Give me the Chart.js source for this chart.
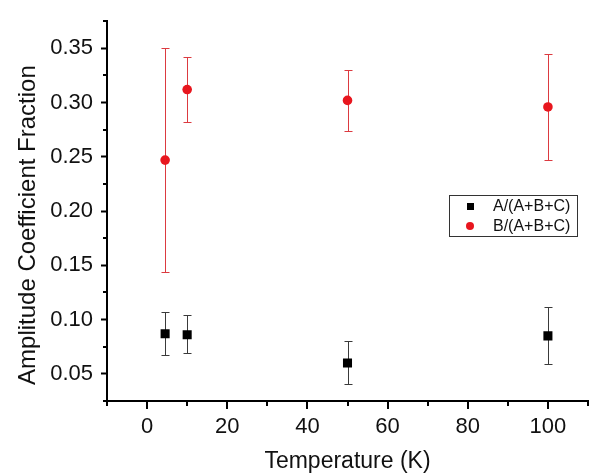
<!DOCTYPE html>
<html>
<head>
<meta charset="utf-8">
<script src="https://cdn.jsdelivr.net/npm/chart.js@4/dist/chart.umd.min.js"></script>
<style>
  html, body { margin: 0; padding: 0; background: #fff; }
</style>
</head>
<body>
<canvas id="chart" width="591" height="476"></canvas>
<script>
// temperatures (K)
var temps = [4.5, 10, 50, 100];
// A/(A+B+C) with error bar ends
var fracA = [0.087, 0.086, 0.060, 0.085];
var fracA_hi = [0.107, 0.104, 0.080, 0.112];
var fracA_lo = [0.067, 0.069, 0.041, 0.059];
// B/(A+B+C) with error bar ends
var fracB = [0.247, 0.312, 0.302, 0.296];
var fracB_hi = [0.350, 0.342, 0.330, 0.345];
var fracB_lo = [0.144, 0.282, 0.274, 0.247];
// legend labels and axis titles
var seriesNames = ['A/(A+B+C)', 'B/(A+B+C)'];
var xTitle = 'Temperature (K)';
var yTitle = 'Amplitude Coefficient Fraction';

var FONT = "'Liberation Sans', Arial, sans-serif";

function toPoints(xs, ys) {
  return xs.map(function (x, i) { return { x: x, y: ys[i] }; });
}

function isMajor(v, step) {
  var r = v / step;
  return Math.abs(r - Math.round(r)) < 1e-6;
}

// vertical error bars with caps, drawn under the markers
var errorBars = {
  id: 'errorBars',
  beforeDatasetsDraw: function (chart) {
    var ctx = chart.ctx, xs = chart.scales.x, ys = chart.scales.y;
    chart.data.datasets.forEach(function (ds) {
      ctx.save();
      ctx.strokeStyle = ds.errorColor;
      ctx.lineWidth = 1;
      ds.data.forEach(function (pt, i) {
        var px = Math.round(xs.getPixelForValue(pt.x)) + 0.5;
        var top = Math.round(ys.getPixelForValue(ds.errHi[i])) + 0.5;
        var bot = Math.round(ys.getPixelForValue(ds.errLo[i])) + 0.5;
        ctx.beginPath();
        ctx.moveTo(px, top); ctx.lineTo(px, bot);
        ctx.moveTo(px - 4, top); ctx.lineTo(px + 4, top);
        ctx.moveTo(px - 4, bot); ctx.lineTo(px + 4, bot);
        ctx.stroke();
      });
      ctx.restore();
    });
  }
};

// x ticks (long major / short minor), short minor y ticks and the y title
var axisExtras = {
  id: 'axisExtras',
  afterDraw: function (chart) {
    var ctx = chart.ctx, xs = chart.scales.x, ys = chart.scales.y;
    var area = chart.chartArea;
    ctx.save();
    ctx.strokeStyle = '#000';
    ctx.lineWidth = 2;
    ctx.beginPath();
    xs.ticks.forEach(function (t) {
      var len = isMajor(t.value, 20) ? 8 : 5;
      var px = Math.round(xs.getPixelForValue(t.value));
      ctx.moveTo(px, area.bottom); ctx.lineTo(px, area.bottom + len);
    });
    ys.ticks.forEach(function (t) {
      if (isMajor(t.value, 0.05)) return;
      var py = Math.round(ys.getPixelForValue(t.value));
      ctx.moveTo(area.left, py); ctx.lineTo(area.left - 4, py);
    });
    ctx.stroke();
    // y title, sitting a little below the middle of the axis as in the original
    ctx.translate(28, (area.top + area.bottom) / 2 + 14);
    ctx.rotate(-Math.PI / 2);
    ctx.fillStyle = '#111';
    ctx.font = '24px ' + FONT;
    ctx.textAlign = 'center';
    ctx.textBaseline = 'middle';
    ctx.fillText(yTitle, 0, 0);
    ctx.restore();
  }
};

// boxed legend inside the plot
var boxLegend = {
  id: 'boxLegend',
  afterDraw: function (chart) {
    var ctx = chart.ctx, area = chart.chartArea;
    var bx = area.right - 139, by = 195, bw = 128, bh = 41;
    ctx.save();
    ctx.fillStyle = '#fff';
    ctx.fillRect(bx, by, bw, bh);
    ctx.strokeStyle = '#333';
    ctx.lineWidth = 1;
    ctx.strokeRect(bx + 0.5, by + 0.5, bw, bh);
    ctx.font = '16px ' + FONT;
    ctx.textBaseline = 'middle';
    chart.data.datasets.forEach(function (ds, i) {
      var cy = by + 11 + i * 20, cx = bx + 21;
      ctx.fillStyle = ds.backgroundColor;
      if (ds.pointStyle === 'rect') {
        ctx.fillRect(cx - 3, cy - 3, 7, 7);
      } else {
        ctx.beginPath(); ctx.arc(cx, cy, 4, 0, Math.PI * 2); ctx.fill();
      }
      ctx.fillStyle = '#111';
      ctx.fillText(ds.label, bx + 44, cy + 1);
    });
    ctx.restore();
  }
};

new Chart(document.getElementById('chart'), {
  type: 'scatter',
  data: {
    datasets: [
      {
        label: seriesNames[0],
        data: toPoints(temps, fracA),
        errHi: fracA_hi, errLo: fracA_lo,
        errorColor: '#3a3a3a',
        pointStyle: 'rect',
        pointRadius: 6.4,
        backgroundColor: '#000',
        borderColor: '#000',
        borderWidth: 0
      },
      {
        label: seriesNames[1],
        data: toPoints(temps, fracB),
        errHi: fracB_hi, errLo: fracB_lo,
        errorColor: '#dc3a40',
        pointStyle: 'circle',
        pointRadius: 4.8,
        backgroundColor: '#e8161e',
        borderColor: '#e8161e',
        borderWidth: 0
      }
    ]
  },
  options: {
    responsive: false,
    animation: false,
    devicePixelRatio: 1,
    layout: { autoPadding: false, padding: { top: 13, right: 0, left: 0, bottom: 0 } },
    plugins: { legend: { display: false }, tooltip: { enabled: false } },
    events: [],
    scales: {
      x: {
        type: 'linear',
        min: -10, max: 110,
        ticks: {
          stepSize: 10, autoSkip: false, maxRotation: 0, padding: 3,
          color: '#111', font: { family: FONT, size: 22 },
          callback: function (v) { return isMajor(v, 20) ? String(Math.round(v)) : ''; }
        },
        grid: {
          display: true, drawOnChartArea: false, drawTicks: true,
          tickLength: 10, tickWidth: 2, tickColor: 'rgba(0,0,0,0)'
        },
        border: { display: true, color: '#000', width: 2 },
        title: {
          display: true, text: xTitle, color: '#111',
          font: { family: FONT, size: 23 }, padding: { top: 0, bottom: 1 }
        },
        afterFit: function (s) { s.height = 75; }
      },
      y: {
        type: 'linear',
        min: 0.025, max: 0.375,
        ticks: {
          stepSize: 0.025, autoSkip: false, padding: 8,
          color: '#111', font: { family: FONT, size: 22 },
          callback: function (v) { return isMajor(v, 0.05) ? v.toFixed(2) : ''; }
        },
        grid: {
          display: true, drawOnChartArea: false, drawTicks: true,
          tickLength: 6, tickWidth: 2,
          tickColor: function (c) { return c.tick && isMajor(c.tick.value, 0.05) ? '#000' : 'rgba(0,0,0,0)'; }
        },
        border: { display: true, color: '#000', width: 2 },
        title: { display: false },
        afterFit: function (s) { s.width = 107; }
      }
    }
  },
  plugins: [errorBars, axisExtras, boxLegend]
});
</script>
</body>
</html>
